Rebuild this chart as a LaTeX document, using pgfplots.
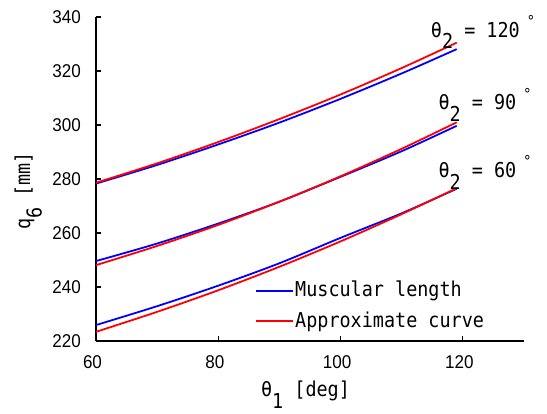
\documentclass[border=0pt]{standalone}
\usepackage{pgfplots}
\pgfplotsset{compat=1.18}
\usepackage{fontspec}
\setmainfont[FakeStretch=0.9]{DejaVu Sans Mono}
\newfontfamily\tickfont[FakeStretch=0.92]{Liberation Sans}
\newcommand{\sub}[1]{\raisebox{-11.6pt}{#1}}
\newcommand{\dg}{\hspace{7pt}\raisebox{10.8pt}{\fontsize{15}{15}\selectfont °}}
\begin{document}
\fontsize{20.5}{24}\selectfont
\begin{tikzpicture}
\useasboundingbox (-96pt,-73pt) rectangle (451pt,341pt);
\begin{axis}[
  at={(0pt,0pt)}, anchor=south west,
  scale only axis, width=428pt, height=324pt,
  xmin=60, xmax=130, ymin=220, ymax=340,
  xtick={60,80,100,120}, ytick={220,240,...,340},
  axis lines*=left,
  axis line style={line width=1.4pt, black},
  tick align=inside, major tick length=5pt,
  every tick/.style={black, line width=1.2pt},
  /pgf/number format/assume math mode=true,
  ticklabel style={font=\tickfont\fontsize{18.5}{18.5}\selectfont},
  yticklabel style={anchor=east, inner sep=0pt, xshift=-15pt},
  xticklabel style={anchor=north, inner sep=0pt, yshift=-14pt, xshift=-3.5pt},
  xlabel={θ\sub{1} [deg]},
  ylabel={q\sub{6} [mm]},
  xlabel style={at={(axis description cs:0.4895,-0.1728)}, anchor=base, inner sep=0pt},
  ylabel style={at={(axis description cs:-0.154,0.463)}, anchor=base, inner sep=0pt},
  clip=false,
  legend style={at={(axis description cs:0.375,0.108)}, anchor=west, draw=none, fill=none,
    inner sep=0pt, outer sep=0pt, row sep=8pt,
    cells={anchor=west, inner sep=1pt}, font=\fontsize{20.5}{20.5}\selectfont},
  every axis plot/.append style={line width=1.8pt, smooth},
  legend image code/.code={\fill[#1, draw=none] (0pt,-0.9pt) rectangle (36.7pt,0.9pt);},
]
\addplot[blue] coordinates {(60,278.3) (70,285.2) (80,292.8) (90,300.9) (100,309.7) (110,319.1) (119,328.1)};
\addlegendentry{Muscular length}
\addplot[red] coordinates {(60,278.6) (70,285.8) (80,293.7) (90,302.2) (100,311.3) (110,321.1) (119,330.5)};
\addlegendentry{Approximate curve}
\addplot[blue, forget plot] coordinates {(60,249.6) (70,256.1) (80,263.5) (90,271.6) (100,280.8) (110,290.3) (119,299.7)};
\addplot[red, forget plot] coordinates {(60,248.1) (70,255.2) (80,263.0) (90,271.6) (100,281.0) (110,291.2) (119,301.0)};
\addplot[blue, forget plot] coordinates {(60,225.9) (70,232.9) (80,240.5) (90,248.8) (100,258.2) (110,267.3) (119,276.4)};
\addplot[red, forget plot] coordinates {(60,223.4) (70,230.8) (80,238.8) (90,247.5) (100,256.9) (110,267.0) (119,276.6)};
\node[anchor=base west, inner sep=0pt] at (axis cs:114.75,332.5) {θ\sub{2} = 120\dg};
\node[anchor=base west, inner sep=0pt] at (axis cs:116.0,305.6) {θ\sub{2} = 90\dg};
\node[anchor=base west, inner sep=0pt] at (axis cs:116.0,280.5) {θ\sub{2} = 60\dg};
\end{axis}
\end{tikzpicture}
\end{document}
